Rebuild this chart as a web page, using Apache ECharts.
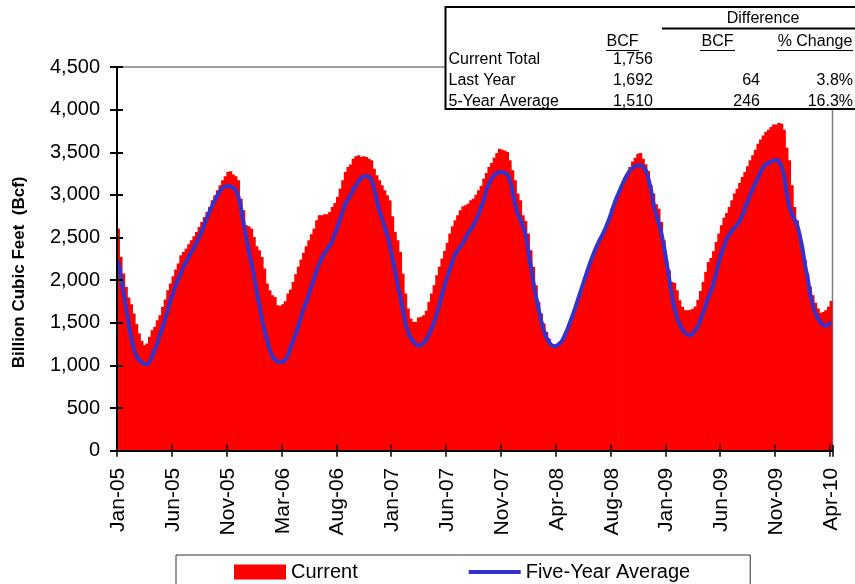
<!DOCTYPE html>
<html>
<head>
<meta charset="utf-8">
<script src="https://cdn.jsdelivr.net/npm/echarts/dist/echarts.min.js"></script>
<style>
html,body{margin:0;padding:0;background:#fff;}
#chart{width:855px;height:584px;}
</style>
</head>
<body>
<div id="chart"></div>
<script>
// ---- Data (weekly working gas in storage, Bcf) ----
const tickLabels = ['Jan-05','Jun-05','Nov-05','Mar-06','Aug-06','Jan-07','Jun-07','Nov-07','Apr-08','Aug-08','Jan-09','Jun-09','Nov-09','Apr-10'];
const labelStep = 21; // weeks between axis labels

const current = [
2605,2273,2077,1921,1796,1718,1609,1484,1375,1289,1238,1257,1335,1414,1453,1531,1589,1687,1773,1882,
1960,2046,2124,2195,2292,2331,2370,2421,2468,2515,2566,2624,2683,2741,2800,2858,2937,2995,3054,3112,
3171,3218,3268,3276,3240,3218,3171,2956,2819,2644,2632,2605,2507,2398,2351,2273,2136,1960,1882,1824,
1804,1707,1699,1718,1753,1843,1890,1980,2070,2156,2241,2320,2398,2468,2538,2605,2702,2761,2761,2773,
2773,2800,2858,2905,2976,3073,3171,3268,3327,3356,3425,3452,3464,3444,3452,3444,3425,3405,3308,3229,
3171,3112,3054,2995,2937,2749,2566,2468,2331,2077,1843,1667,1550,1511,1511,1562,1570,1589,1640,1746,
1843,1941,2058,2156,2253,2343,2437,2546,2632,2702,2761,2819,2866,2878,2898,2937,2956,3003,3054,3108,
3190,3257,3327,3374,3436,3491,3542,3530,3522,3503,3405,3288,3171,3015,2937,2761,2694,2546,2351,2156,
1941,1746,1609,1492,1394,1316,1238,1218,1238,1260,1300,1360,1420,1490,1570,1650,1745,1840,1930,2025,
2115,2200,2290,2375,2450,2505,2560,2620,2710,2839,2898,2976,3046,3112,3171,3241,3327,3393,3436,3483,
3491,3425,3358,3280,3112,3015,2890,2839,2683,2468,2234,2117,1980,1968,1882,1765,1687,1648,1648,1650,
1665,1692,1770,1874,1980,2097,2214,2260,2340,2448,2546,2644,2733,2788,2858,2937,3015,3073,3140,3210,
3269,3335,3405,3464,3530,3600,3651,3698,3737,3764,3796,3827,3827,3842,3835,3764,3553,3405,3112,2858,
2702,2546,2398,2241,2077,1921,1824,1734,1668,1617,1628,1648,1687,1756
];

const fiveYearAvg = [
2230,2038,1843,1667,1484,1316,1187,1109,1062,1039,1019,1015,1043,1109,1187,1265,1367,1453,1550,1656,
1765,1851,1941,2019,2085,2156,2214,2273,2331,2382,2448,2507,2577,2655,2734,2808,2874,2937,2995,3046,
3081,3101,3108,3101,3085,3046,2976,2839,2663,2499,2331,2195,2046,1863,1707,1550,1414,1296,1179,1109,
1066,1047,1043,1039,1070,1121,1211,1296,1375,1468,1570,1667,1746,1835,1929,2019,2117,2195,2265,2320,
2359,2405,2468,2546,2632,2722,2812,2898,2950,3000,3060,3112,3159,3198,3218,3222,3214,3171,3073,2937,
2812,2722,2624,2527,2402,2253,2097,1941,1796,1648,1492,1386,1324,1277,1246,1234,1242,1265,1308,1367,
1433,1511,1609,1718,1835,1941,2038,2128,2226,2300,2351,2390,2437,2495,2554,2595,2645,2705,2775,2860,
2944,3054,3132,3194,3233,3257,3265,3268,3257,3237,3171,3034,2886,2773,2710,2632,2527,2343,2156,1968,
1804,1656,1519,1406,1324,1269,1234,1226,1234,1257,1292,1355,1425,1507,1589,1679,1773,1867,1960,2054,
2144,2230,2310,2385,2450,2510,2570,2640,2720,2810,2900,2980,3050,3120,3187,3241,3288,3319,3339,3347,
3347,3327,3288,3190,3061,2890,2769,2663,2546,2390,2202,2011,1816,1667,1562,1480,1421,1382,1363,1355,
1375,1414,1460,1539,1621,1714,1804,1870,1968,2089,2214,2320,2402,2487,2534,2577,2616,2648,2698,2761,
2847,2921,2995,3073,3140,3202,3269,3327,3358,3374,3390,3405,3413,3386,3335,3210,3015,2858,2780,2710,
2644,2519,2370,2175,2019,1835,1707,1609,1547,1504,1472,1468,1480,1510
];

// Summary table
const tableRowLabels = ['Current Total','Last Year','5-Year Average'];
const tableBcf = ['1,756','1,692','1,510'];
const tableDiffBcf = ['','64','246'];
const tablePctChange = ['','3.8%','16.3%'];

// Weekly categories (one per report week)
const weekStartUTC = Date.UTC(2005, 0, 14);
const weeks = current.map((_, i) => new Date(weekStartUTC + i * 7 * 86400000).toISOString().slice(0, 10));

const FONT = '"Liberation Sans", Arial, sans-serif';

const chart = echarts.init(document.getElementById('chart'), null, {renderer: 'canvas'});

// ---- Table graphics ----
const tableGraphics = [];
tableGraphics.push({type:'rect', z:100, shape:{x:445.5, y:7, width:420, height:102}, style:{fill:'#fff', stroke:'#000', lineWidth:2}});
const txt = (text, x, y, align) => ({type:'text', z:101, x:x, y:y, style:{text:text, fill:'#000', font:'16px ' + FONT, textAlign:align, textVerticalAlign:'middle'}});
const ln = (x1, y1, x2, lw) => ({type:'line', z:101, shape:{x1:x1, y1:y1, x2:x2, y2:y1}, style:{stroke:'#000', lineWidth:lw}});
tableGraphics.push(txt('Difference', 763, 19, 'center'));
tableGraphics.push(ln(662, 28.5, 856, 2));
tableGraphics.push(txt('BCF', 622.5, 41.5, 'center'));
tableGraphics.push(txt('BCF', 717.5, 41.5, 'center'));
tableGraphics.push(txt('% Change', 815, 41.5, 'center'));
tableGraphics.push(ln(606, 50.5, 639, 1));
tableGraphics.push(ln(700, 50.5, 735, 1));
tableGraphics.push(ln(777, 50.5, 853, 1));
const rowY = [60, 81, 102];
tableRowLabels.forEach((lab, r) => {
  tableGraphics.push(txt(lab, 448.5, rowY[r], 'left'));
  tableGraphics.push(txt(tableBcf[r], 653, rowY[r], 'right'));
  tableGraphics.push(txt(tableDiffBcf[r], 760, rowY[r], 'right'));
  tableGraphics.push(txt(tablePctChange[r], 853, rowY[r], 'right'));
});

const option = {
  animation: false,
  backgroundColor: '#fff',
  textStyle: {fontFamily: FONT},
  grid: {
    left: 117, right: 22.5, top: 67, bottom: 133.3,
    show: true, borderColor: '#808080', borderWidth: 1.5, backgroundColor: 'transparent',
    containLabel: false
  },
  legend: {
    left: 176, top: 555,
    orient: 'horizontal',
    borderColor: '#333', borderWidth: 1,
    padding: [7, 60, 12, 58],
    itemGap: 111, itemWidth: 52, itemHeight: 15,
    textStyle: {fontSize: 20, color: '#000', fontFamily: FONT},
    data: [
      {name: 'Current', icon: 'rect'},
      {name: 'Five-Year Average', icon: 'path://M0,0H52V4H0Z'}
    ]
  },
  xAxis: [
    {
      type: 'category', data: weeks, position: 'bottom', boundaryGap: true, z: 5,
      axisLine: {show: true, onZero: false, lineStyle: {color: '#000', width: 2}},
      axisTick: {show: true, interval: labelStep - 1, length: 6, alignWithLabel: false, lineStyle: {color: '#000', width: 1.5}},
      axisLabel: {
        show: true, interval: labelStep - 1, rotate: 90, margin: 17,
        fontSize: 21, color: '#000', fontFamily: FONT,
        formatter: (val, idx) => tickLabels[Math.round(idx / labelStep)] || ''
      },
      splitLine: {show: false}
    },
    {
      type: 'category', data: weeks, position: 'bottom', boundaryGap: true, z: 5, gridIndex: 0,
      axisLine: {show: false},
      axisTick: {show: true, inside: true, interval: labelStep - 1, length: 6, alignWithLabel: false, lineStyle: {color: '#000', width: 1.5}},
      axisLabel: {show: false},
      splitLine: {show: false}
    }
  ],
  yAxis: [
    {
      type: 'value', min: 0, max: 4500, interval: 500, position: 'left', z: 5,
      name: 'Billion Cubic Feet  (Bcf)', nameLocation: 'middle', nameRotate: 90, nameGap: 89,
      nameTextStyle: {fontSize: 17, fontWeight: 'bold', color: '#000', fontFamily: FONT, padding: [0, 27, 0, 0]},
      axisLine: {show: true, onZero: false, lineStyle: {color: '#000', width: 2}},
      axisTick: {show: true, length: 7, lineStyle: {color: '#000', width: 2}},
      axisLabel: {
        margin: 17, fontSize: 20, color: '#000', fontFamily: FONT,
        formatter: v => v.toLocaleString('en-US')
      },
      splitLine: {show: false}
    },
    {
      type: 'value', min: 0, max: 4500, interval: 500, position: 'left', z: 5, gridIndex: 0,
      axisLine: {show: false},
      axisTick: {show: true, inside: true, length: 6, lineStyle: {color: '#000', width: 2}},
      axisLabel: {show: false},
      splitLine: {show: false}
    }
  ],
  series: [
    {
      name: 'Current', type: 'bar', data: current,
      xAxisIndex: 0, yAxisIndex: 0,
      barWidth: 3.3,
      itemStyle: {color: '#FF0000'},
      emphasis: {disabled: true},
      z: 2
    },
    {
      name: 'Five-Year Average', type: 'line', data: fiveYearAvg,
      xAxisIndex: 0, yAxisIndex: 0,
      smooth: 0.3, symbol: 'none', showSymbol: false,
      lineStyle: {color: '#3333CC', width: 4},
      itemStyle: {color: '#3333CC'},
      emphasis: {disabled: true},
      z: 3
    }
  ],
  graphic: tableGraphics
};

chart.setOption(option);
</script>
</body>
</html>
